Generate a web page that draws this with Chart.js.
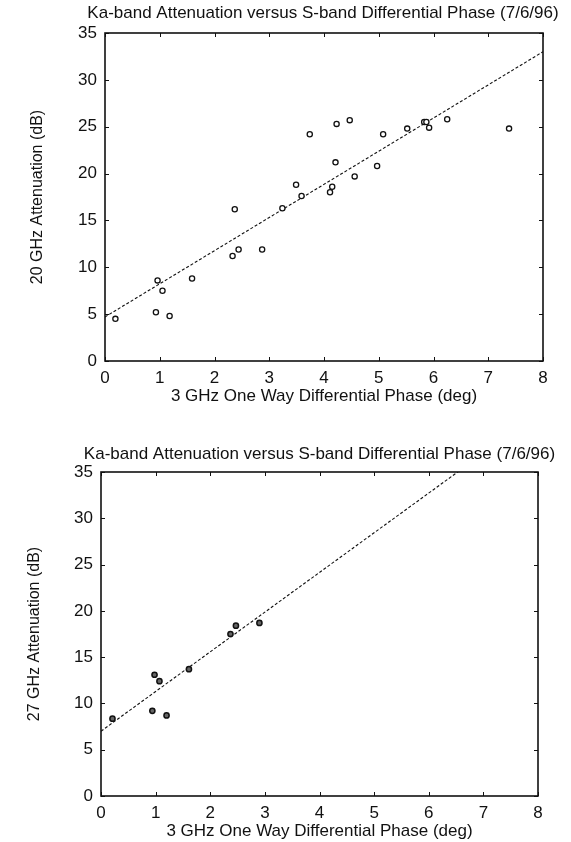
<!DOCTYPE html>
<html>
<head>
<meta charset="utf-8">
<title>Ka-band Attenuation versus S-band Differential Phase</title>
<script src="https://cdn.jsdelivr.net/npm/chart.js@4.4.1/dist/chart.umd.min.js"></script>
<style>
  html, body { margin: 0; padding: 0; background: #fff; }
  body { width: 571px; height: 842px; position: relative; overflow: hidden; }
  .box { position: absolute; left: 0; width: 571px; }
  #top { top: 0; height: 409px; }
  #bot { top: 440px; height: 402px; }
</style>
</head>
<body>
<div class="box" id="top"><canvas id="chart20"></canvas></div>
<div class="box" id="bot"><canvas id="chart27"></canvas></div>
<script>
// ── Data ──
const TITLE = 'Ka-band Attenuation versus S-band Differential Phase (7/6/96)';
const X_LABEL = '3 GHz One Way Differential Phase (deg)';

// 20 GHz panel
const phase20 = [0.19, 0.93, 0.96, 1.05, 1.18, 1.59, 2.33, 2.37, 2.44, 2.87,
                 3.24, 3.49, 3.59, 3.74, 4.11, 4.15, 4.21, 4.23, 4.47, 4.56,
                 4.97, 5.08, 5.52, 5.83, 5.87, 5.92, 6.25, 7.38];
const atten20 = [4.5, 5.2, 8.6, 7.5, 4.8, 8.8, 11.2, 16.2, 11.9, 11.9,
                 16.3, 18.8, 17.6, 24.2, 18.0, 18.6, 21.2, 25.3, 25.7, 19.7,
                 20.8, 24.2, 24.8, 25.5, 25.5, 24.9, 25.8, 24.8];

// 27 GHz panel
const phase27 = [0.21, 0.94, 0.98, 1.07, 1.20, 1.61, 2.37, 2.47, 2.90];
const atten27 = [8.35, 9.2, 13.1, 12.4, 8.7, 13.7, 17.5, 18.4, 18.7];

// fitted lines (end points)
const fitX     = [0, 8];
const fit20    = [4.7, 33.0];
const fit27    = [7.0, 41.3];

const xTicks = [0, 1, 2, 3, 4, 5, 6, 7, 8];
const yTicks = [0, 5, 10, 15, 20, 25, 30, 35];

const INK = '#111';
const FONT = "'Liberation Sans', Arial, sans-serif";
Chart.defaults.font.family = FONT;
Chart.defaults.color = INK;

const pairs = (xs, ys) => xs.map((v, i) => ({ x: v, y: ys[i] }));

// ── Box frame with inward tick marks on all four sides ──
const frameTicks = {
  id: 'frameTicks',
  afterDatasetsDraw(chart) {
    const { ctx, chartArea: a, scales: { x, y } } = chart;
    const len = 4;
    ctx.save();
    ctx.strokeStyle = INK;
    ctx.lineWidth = 1;
    ctx.beginPath();
    xTicks.forEach(v => {
      const px = Math.round(x.getPixelForValue(v)) + 0.5;
      ctx.moveTo(px, a.bottom); ctx.lineTo(px, a.bottom - len);
      ctx.moveTo(px, a.top);    ctx.lineTo(px, a.top + len);
    });
    yTicks.forEach(v => {
      const py = Math.round(y.getPixelForValue(v)) + 0.5;
      ctx.moveTo(a.left, py);  ctx.lineTo(a.left + len, py);
      ctx.moveTo(a.right, py); ctx.lineTo(a.right - len, py);
    });
    ctx.stroke();
    ctx.lineWidth = 1.6;
    ctx.strokeRect(a.left, a.top, a.width, a.height);
    ctx.restore();
  }
};

// ── Title centred over the plot box (built-in title squeezes it to fit) ──
const boxTitle = {
  id: 'boxTitle',
  afterDraw(chart, args, o) {
    const { ctx, chartArea: a } = chart;
    ctx.save();
    ctx.fillStyle = INK;
    ctx.font = `17px ${FONT}`;
    ctx.textAlign = 'center';
    ctx.textBaseline = 'middle';
    ctx.fillText(o.text, (a.left + a.right) / 2 + o.shift, o.y);
    ctx.restore();
  }
};

function makePanel(id, yLabel, xs, ys, fitY, opts) {
  new Chart(document.getElementById(id), {
    type: 'scatter',
    data: {
      datasets: [{
        label: 'data',
        data: pairs(xs, ys),
        pointStyle: 'circle',
        pointRadius: 2.6,
        pointBorderWidth: opts.pointBorder,
        pointBorderColor: INK,
        pointBackgroundColor: opts.pointFill,
        showLine: false,
      }, {
        label: 'fit',
        data: pairs(fitX, fitY),
        showLine: true,
        borderColor: INK,
        borderWidth: 1.1,
        borderDash: [3, 2],
        pointRadius: 0,
        fill: false,
      }]
    },
    options: {
      responsive: true,
      maintainAspectRatio: false,
      animation: false,
      events: [],
      layout: { padding: { left: opts.padLeft, right: opts.padRight, top: opts.padTop, bottom: 0 } },
      plugins: {
        legend: { display: false },
        tooltip: { enabled: false },
        title: { display: false },
        boxTitle: { text: TITLE, y: opts.titleY, shift: opts.titleShift }
      },
      scales: {
        x: {
          type: 'linear',
          min: 0, max: 8,
          afterBuildTicks: s => { s.ticks = xTicks.map(v => ({ value: v })); },
          afterFit: s => { s.height = opts.xHeight; },
          grid: { display: false, drawTicks: false },
          border: { display: false },
          ticks: { padding: 7, font: { size: 17 }, color: INK, maxRotation: 0 },
          title: { display: true, text: X_LABEL, color: INK, font: { size: 17 }, padding: { top: 0, bottom: opts.xTitleBottom } }
        },
        y: {
          type: 'linear',
          min: 0, max: 35,
          afterBuildTicks: s => { s.ticks = yTicks.map(v => ({ value: v })); },
          afterFit: s => { s.width = opts.yWidth; },
          grid: { display: false, drawTicks: false },
          border: { display: false },
          ticks: { padding: 8, font: { size: 17 }, color: INK },
          title: { display: true, text: yLabel, color: INK, font: { size: 16 }, padding: { top: 4, bottom: 0 } }
        }
      }
    },
    plugins: [frameTicks, boxTitle]
  });
}

makePanel('chart20', '20 GHz Attenuation (dB)', phase20, atten20, fit20, {
  padLeft: 24, padRight: 28, padTop: 33, yWidth: 81, xHeight: 48, xTitleBottom: 2,
  titleY: 13, titleShift: -1, pointFill: '#fff', pointBorder: 1.3
});

makePanel('chart27', '27 GHz Attenuation (dB)', phase27, atten27, fit27, {
  padLeft: 21, padRight: 33, padTop: 32, yWidth: 80, xHeight: 46, xTitleBottom: 0,
  titleY: 14, titleShift: 0, pointFill: '#666', pointBorder: 1.5
});
</script>
</body>
</html>
